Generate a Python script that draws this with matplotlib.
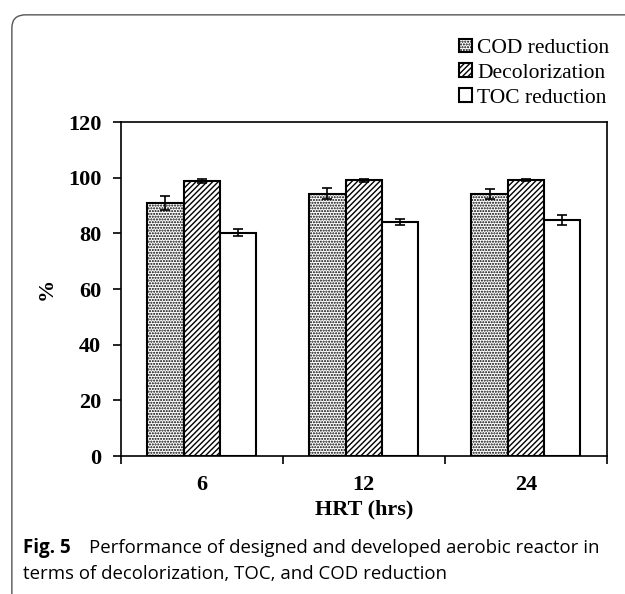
import matplotlib
matplotlib.use("Agg")
import matplotlib.pyplot as plt
import numpy as np
from matplotlib.patches import FancyBboxPatch

hrt = ["6", "12", "24"]
cod = [90.8, 94.2, 94.1]
cod_err = [2.5, 2.0, 1.8]
decol = [98.7, 99.1, 99.2]
decol_err = [0.7, 0.6, 0.5]
toc = [80.3, 84.0, 84.7]
toc_err = [1.1, 1.0, 1.8]

plt.rcParams['hatch.linewidth'] = 1.0
serif = ['Liberation Serif', 'DejaVu Serif']

fig = plt.figure(figsize=(6.25, 5.94), dpi=100)
ax = fig.add_axes([0.193, 0.2323, 0.778, 0.5623])

x = np.arange(len(hrt))
w = 0.224
err_kw = dict(ecolor='black', elinewidth=1.2, capsize=3.5, capthick=1.2)
b1 = ax.bar(x - w, cod, w, yerr=cod_err, color='white', edgecolor='black',
            linewidth=1.5, hatch='......', label='COD reduction', error_kw=err_kw)
b2 = ax.bar(x, decol, w, yerr=decol_err, color='white', edgecolor='black',
            linewidth=1.5, hatch='//////', label='Decolorization', error_kw=err_kw)
b3 = ax.bar(x + w, toc, w, yerr=toc_err, color='white', edgecolor='black',
            linewidth=1.5, label='TOC reduction', error_kw=err_kw)

ax.set_xlim(-0.5, 2.5)
ax.set_ylim(0, 120)
ax.set_yticks(range(0, 121, 20))
ax.set_xticks(x)
ax.set_xticklabels(hrt)
# category boundary ticks
ax.set_xticks([-0.5, 0.5, 1.5, 2.5], minor=True)
ax.tick_params(axis='x', which='major', length=0, pad=14)
ax.tick_params(axis='x', which='minor', length=6, width=1.2, direction='out')
ax.tick_params(axis='y', length=6, width=1.2, direction='out', pad=8)
for lab in ax.get_xticklabels() + ax.get_yticklabels():
    lab.set_fontfamily(serif)
    lab.set_fontweight('bold')
    lab.set_fontsize(16)
for s in ax.spines.values():
    s.set_linewidth(1.2)

ax.set_xlabel('HRT (hrs)', fontfamily=serif, fontweight='bold', fontsize=16, labelpad=3)
ax.set_ylabel('%', fontfamily=serif, fontweight='bold', fontsize=16, labelpad=8)

fig.legend(handles=[b1, b2, b3], loc='upper right', bbox_to_anchor=(0.975, 0.935),
           frameon=False, prop={'family': serif, 'size': 15.5},
           borderpad=0, borderaxespad=0,
           handlelength=0.6, handleheight=0.6, handletextpad=0.25, labelspacing=0.25)

# article figure frame
frame = FancyBboxPatch((0.019, -0.05), 1.2, 1.025, boxstyle='round,pad=0,rounding_size=0.022',
                       transform=fig.transFigure, facecolor='none', edgecolor='#555555',
                       linewidth=1.0, clip_on=False)
fig.patches.append(frame)

fig.text(0.037, 0.069, 'Fig. 5', fontsize=13.5, fontfamily='Open Sans', fontweight='bold',
         va='baseline')
fig.text(0.142, 0.069, 'Performance of designed and developed aerobic reactor in',
         fontsize=13.4, fontfamily='Open Sans', va='baseline')
fig.text(0.037, 0.026, 'terms of decolorization, TOC, and COD reduction',
         fontsize=13.4, fontfamily='Open Sans', va='baseline')

fig.savefig('out.png', dpi=100)
